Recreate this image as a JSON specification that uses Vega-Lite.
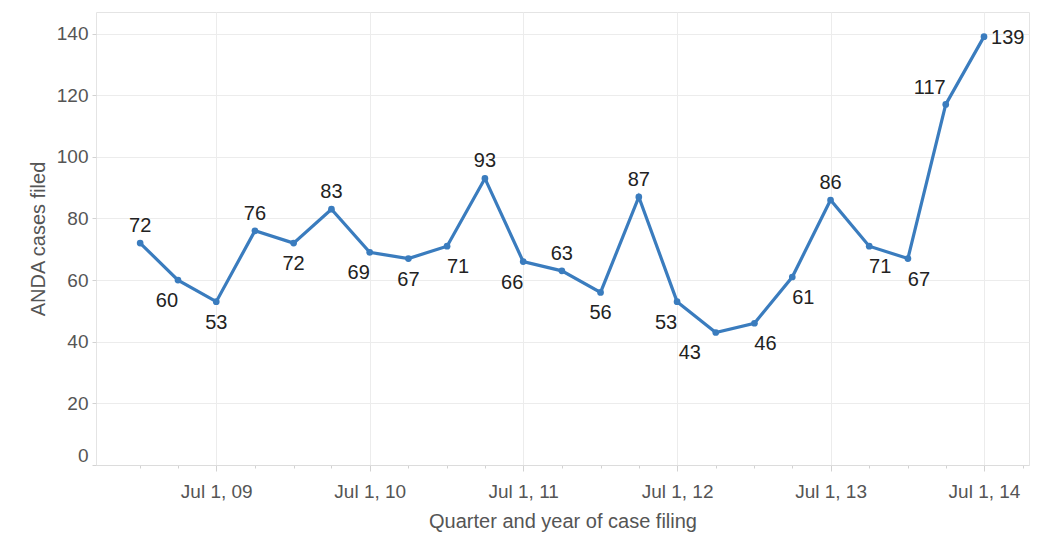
{
  "$schema": "https://vega.github.io/schema/vega-lite/v6.json",
  "width": 933,
  "height": 453,
  "autosize": {"type": "none"},
  "padding": {"left": 96, "top": 12, "right": 25, "bottom": 71},
  "background": "white",
  "data": {
    "values": [
      {"quarter": "2009/01/01", "cases": 72},
      {"quarter": "2009/04/01", "cases": 60},
      {"quarter": "2009/07/01", "cases": 53},
      {"quarter": "2009/10/01", "cases": 76},
      {"quarter": "2010/01/01", "cases": 72},
      {"quarter": "2010/04/01", "cases": 83},
      {"quarter": "2010/07/01", "cases": 69},
      {"quarter": "2010/10/01", "cases": 67},
      {"quarter": "2011/01/01", "cases": 71},
      {"quarter": "2011/04/01", "cases": 93},
      {"quarter": "2011/07/01", "cases": 66},
      {"quarter": "2011/10/01", "cases": 63},
      {"quarter": "2012/01/01", "cases": 56},
      {"quarter": "2012/04/01", "cases": 87},
      {"quarter": "2012/07/01", "cases": 53},
      {"quarter": "2012/10/01", "cases": 43},
      {"quarter": "2013/01/01", "cases": 46},
      {"quarter": "2013/04/01", "cases": 61},
      {"quarter": "2013/07/01", "cases": 86},
      {"quarter": "2013/10/01", "cases": 71},
      {"quarter": "2014/01/01", "cases": 67},
      {"quarter": "2014/04/01", "cases": 117},
      {"quarter": "2014/07/01", "cases": 139}
    ]
  },
  "encoding": {
    "x": {
      "field": "quarter",
      "type": "temporal",
      "title": "Quarter and year of case filing",
      "scale": {
        "domain": [
          {"year": 2008, "month": 9, "date": 18},
          {"year": 2014, "month": 10, "date": 16}
        ]
      },
      "axis": {
        "values": [
          {"year": 2009, "month": 1, "date": 1}, {"year": 2009, "month": 4, "date": 1},
          {"year": 2009, "month": 7, "date": 1}, {"year": 2009, "month": 10, "date": 1},
          {"year": 2010, "month": 1, "date": 1}, {"year": 2010, "month": 4, "date": 1},
          {"year": 2010, "month": 7, "date": 1}, {"year": 2010, "month": 10, "date": 1},
          {"year": 2011, "month": 1, "date": 1}, {"year": 2011, "month": 4, "date": 1},
          {"year": 2011, "month": 7, "date": 1}, {"year": 2011, "month": 10, "date": 1},
          {"year": 2012, "month": 1, "date": 1}, {"year": 2012, "month": 4, "date": 1},
          {"year": 2012, "month": 7, "date": 1}, {"year": 2012, "month": 10, "date": 1},
          {"year": 2013, "month": 1, "date": 1}, {"year": 2013, "month": 4, "date": 1},
          {"year": 2013, "month": 7, "date": 1}, {"year": 2013, "month": 10, "date": 1},
          {"year": 2014, "month": 1, "date": 1}, {"year": 2014, "month": 4, "date": 1},
          {"year": 2014, "month": 7, "date": 1}, {"year": 2014, "month": 10, "date": 1}
        ],
        "labelExpr": "month(datum.value) == 6 ? timeFormat(datum.value, '%b %-d, %y') : ''",
        "labelOverlap": false,
        "labelFlush": false,
        "labelPadding": 11,
        "tickSize": {"condition": {"test": "month(datum.value) == 6", "value": 6}, "value": 3},
        "gridOpacity": {"condition": {"test": "month(datum.value) == 6", "value": 1}, "value": 0},
        "titlePadding": 10
      }
    },
    "y": {
      "field": "cases",
      "type": "quantitative",
      "title": "ANDA cases filed",
      "scale": {"domain": [0, 147], "nice": false},
      "axis": {
        "values": [0, 20, 40, 60, 80, 100, 120, 140],
        "labelFlush": true,
        "labelFlushOffset": 0,
        "domain": false,
        "tickSize": 4,
        "labelPadding": 4,
        "titlePadding": 8
      }
    }
  },
  "layer": [
    {"mark": {"type": "line", "color": "#3a7cbe", "strokeWidth": 3.2}},
    {"mark": {"type": "point", "filled": true, "color": "#3a7cbe", "size": 45, "opacity": 1}},
    {
      "transform": [{"filter": "indexof(['2009-01','2009-10','2010-04','2011-04','2011-10','2012-04','2013-07'], timeFormat(datum.quarter, '%Y-%m')) >= 0"}],
      "mark": {"type": "text", "dy": -17, "font": "Liberation Sans", "fontSize": 20, "color": "#222222"},
      "encoding": {"text": {"field": "cases"}}
    },
    {
      "transform": [{"filter": "timeFormat(datum.quarter, '%Y-%m') == '2014-04'"}],
      "mark": {"type": "text", "dx": -16, "dy": -16, "font": "Liberation Sans", "fontSize": 20, "color": "#222222"},
      "encoding": {"text": {"field": "cases"}}
    },
    {
      "transform": [{"filter": "timeFormat(datum.quarter, '%Y-%m') == '2014-07'"}],
      "mark": {"type": "text", "align": "left", "dx": 7, "dy": 1, "font": "Liberation Sans", "fontSize": 20, "color": "#222222"},
      "encoding": {"text": {"field": "cases"}}
    },
    {
      "transform": [{"filter": "indexof(['2009-07','2010-01','2010-10','2012-01'], timeFormat(datum.quarter, '%Y-%m')) >= 0"}],
      "mark": {"type": "text", "dy": 21, "font": "Liberation Sans", "fontSize": 20, "color": "#222222"},
      "encoding": {"text": {"field": "cases"}}
    },
    {
      "transform": [{"filter": "indexof(['2009-04','2010-07','2011-07','2012-07'], timeFormat(datum.quarter, '%Y-%m')) >= 0"}],
      "mark": {"type": "text", "dx": -11, "dy": 21, "font": "Liberation Sans", "fontSize": 20, "color": "#222222"},
      "encoding": {"text": {"field": "cases"}}
    },
    {
      "transform": [{"filter": "timeFormat(datum.quarter, '%Y-%m') == '2012-10'"}],
      "mark": {"type": "text", "dx": -26, "dy": 21, "font": "Liberation Sans", "fontSize": 20, "color": "#222222"},
      "encoding": {"text": {"field": "cases"}}
    },
    {
      "transform": [{"filter": "indexof(['2011-01','2013-01','2013-04','2013-10','2014-01'], timeFormat(datum.quarter, '%Y-%m')) >= 0"}],
      "mark": {"type": "text", "dx": 11, "dy": 21, "font": "Liberation Sans", "fontSize": 20, "color": "#222222"},
      "encoding": {"text": {"field": "cases"}}
    }
  ],
  "config": {
    "view": {"stroke": "#e4e4e4", "strokeWidth": 1},
    "axis": {
      "gridColor": "#ececec",
      "gridWidth": 1,
      "domainColor": "#dcdcdc",
      "tickColor": "#d2d2d2",
      "labelFont": "Liberation Sans",
      "labelFontSize": 19,
      "labelColor": "#555555",
      "titleFont": "Liberation Sans",
      "titleFontSize": 20,
      "titleFontWeight": "normal",
      "titleColor": "#555555"
    }
  }
}
